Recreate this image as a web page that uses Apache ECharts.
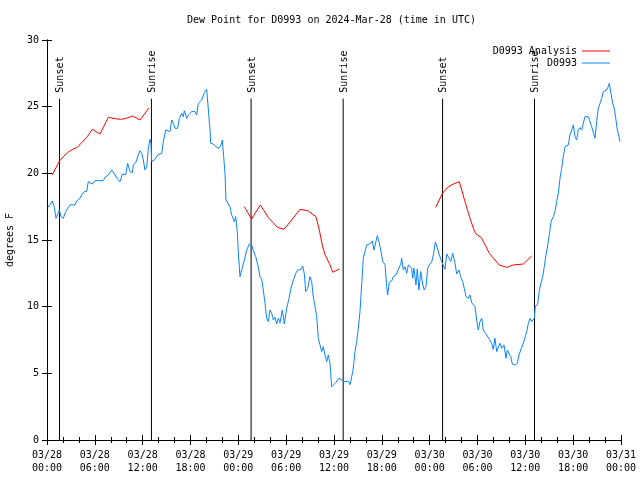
<!DOCTYPE html>
<html>
<head>
<meta charset="utf-8">
<script src="https://cdn.jsdelivr.net/npm/echarts@6/dist/echarts.min.js"></script>
<style>html,body{margin:0;padding:0;background:#fff}#c{width:640px;height:480px}</style>
</head>
<body>
<div id="c"></div>
<script>
// Hours since 2024-03-28 00:00 UTC
const xTickLabels = ['03/28\n00:00','03/28\n06:00','03/28\n12:00','03/28\n18:00','03/29\n00:00','03/29\n06:00','03/29\n12:00','03/29\n18:00','03/30\n00:00','03/30\n06:00','03/30\n12:00','03/30\n18:00','03/31\n00:00'];
const yTicks = [0,5,10,15,20,25,30];

const eventNames = ['Sunset','Sunrise','Sunset','Sunrise','Sunset','Sunrise'];
const eventTimes = [1.57, 13.1, 25.6, 37.15, 49.62, 61.15];
const eventLineTop = 25.6;

const analysisTimes1 = [0.66,1.54,2.04,2.67,3.22,3.8,4.35,5.06,5.68,6.23,6.65,7.69,8.53,9.24,9.78,10.75,11.67,12.76];
const analysisValues1 = [19.87,20.9,21.25,21.6,21.8,21.95,22.3,22.75,23.3,23.1,22.95,24.2,24.1,24.05,24.1,24.3,24.0,24.9];
const analysisTimes2 = [24.75,25.67,26.76,27.77,28.9,29.73,30.69,31.73,32.78,33.74,34.16,34.53,34.87,35.5,35.83,36.67];
const analysisValues2 = [17.5,16.58,17.63,16.68,15.95,15.8,16.5,17.3,17.18,16.75,15.75,14.63,13.9,13.13,12.58,12.83];
const analysisTimes3 = [48.75,49.6,50.26,50.97,51.72,52.43,53.06,53.56,53.81,54.45,54.86,55.48,56.2,56.72,57.66,58.5,59.75,60.8];
const analysisValues3 = [17.45,18.5,18.95,19.2,19.38,17.88,16.63,15.75,15.45,15.2,14.75,14.0,13.5,13.13,12.95,13.13,13.2,13.8];

const obsTimes = [0.09,0.38,0.66,0.92,1.13,1.34,1.54,1.76,2.04,2.35,2.60,2.89,3.51,3.73,4.14,4.35,4.68,4.98,5.18,5.39,5.68,6.02,7.06,7.28,7.69,8.12,8.53,8.87,9.16,9.45,9.70,9.87,10.12,10.41,10.70,10.83,11.13,11.38,11.67,11.88,12.08,12.29,12.51,12.71,12.92,13.05,13.13,13.46,13.89,14.39,14.59,14.89,15.14,15.43,15.64,15.84,16.06,16.39,16.60,16.90,17.10,17.22,17.52,17.72,18.15,18.56,18.78,18.98,19.19,19.40,19.73,20.03,20.23,20.45,20.53,20.86,21.16,21.41,21.57,21.83,21.99,22.16,22.33,22.45,22.67,22.95,23.17,23.49,23.67,23.87,24.00,24.21,24.42,24.75,25.05,25.38,25.46,25.68,25.88,26.18,26.50,26.72,26.93,27.13,27.35,27.56,27.76,27.97,28.19,28.39,28.60,28.81,29.01,29.23,29.52,29.77,30.07,30.36,30.61,30.90,31.20,31.45,31.86,32.07,32.27,32.45,32.70,32.99,33.20,33.40,33.62,33.83,34.03,34.24,34.46,34.66,34.87,35.08,35.29,35.50,35.71,35.91,36.13,36.34,36.63,36.97,37.38,37.79,38.01,38.22,38.35,38.51,38.63,38.85,39.05,39.26,39.47,39.68,39.89,40.10,40.30,40.60,40.80,41.02,41.23,41.43,41.64,41.86,42.11,42.40,42.61,42.73,42.94,43.24,43.44,43.78,44.07,44.37,44.49,44.69,44.91,45.12,45.32,45.53,45.75,45.87,46.03,46.28,46.45,46.66,46.88,47.13,47.33,47.54,47.75,47.95,48.25,48.46,48.71,48.96,49.21,49.51,49.71,49.92,50.14,50.34,50.64,50.89,51.18,51.39,51.68,51.89,52.14,52.34,52.56,52.85,53.06,53.27,53.47,53.69,53.90,54.10,54.31,54.53,54.73,54.94,55.23,55.48,55.78,55.98,56.19,56.41,56.61,56.82,57.04,57.32,57.58,57.74,57.99,58.17,58.37,58.71,58.99,59.21,59.42,59.67,59.87,60.17,60.38,60.59,60.80,61.00,61.13,61.25,61.53,61.75,61.96,62.18,62.38,62.59,62.81,63.01,63.22,63.51,63.72,63.93,64.14,64.35,64.56,64.76,64.98,65.19,65.39,65.60,65.82,66.02,66.23,66.44,66.64,66.86,67.07,67.27,67.48,67.70,67.90,68.11,68.32,68.53,68.74,68.95,69.15,69.37,69.58,69.78,69.99,70.20,70.40,70.53,70.74,70.96,71.16,71.34,71.54,71.75,71.87];
const obsValues = [17.45,17.63,17.93,17.45,16.63,16.63,17.25,16.75,16.63,17.13,17.38,17.63,17.63,17.93,18.13,18.38,18.63,18.63,19.38,19.5,19.2,19.45,19.45,19.7,19.88,20.25,19.88,19.55,19.38,19.95,20.0,19.9,20.75,20.13,20.05,20.63,20.8,21.25,21.7,21.5,21.0,20.25,20.5,21.88,22.55,22.25,20.88,21.0,21.38,21.5,22.38,23.25,23.38,23.13,24.0,23.75,23.38,23.38,24.13,24.5,24.25,24.7,24.13,24.38,24.63,24.63,24.38,25.25,25.13,25.5,26.05,26.3,26.3,23.25,22.25,22.2,22.0,22.13,21.88,22.13,22.5,21.25,20.0,18.0,18.13,17.5,16.88,16.38,16.75,15.63,14.0,12.25,12.25,13.5,14.25,14.7,14.75,14.63,14.2,13.75,13.0,12.25,12.05,11.25,10.25,9.13,8.88,9.75,9.5,9.0,9.2,8.7,9.13,8.8,9.75,8.7,9.88,10.63,11.38,12.0,12.5,12.75,12.8,13.05,12.5,11.13,11.38,12.25,11.88,10.75,10.0,9.25,7.63,7.13,6.63,7.0,6.38,5.88,6.38,5.75,4.0,4.05,4.25,4.38,4.63,4.5,4.38,4.4,4.15,4.2,5.13,5.88,6.63,7.38,8.38,9.63,11.63,13.63,14.13,14.63,14.7,14.75,14.93,14.25,14.25,15.33,14.88,14.25,13.38,13.18,11.5,10.88,11.83,11.93,12.25,12.38,12.8,13.18,13.63,12.75,13.0,12.5,13.13,13.13,12.88,12.13,12.88,11.63,12.83,11.25,12.63,11.63,11.25,11.5,12.88,13.13,13.33,13.88,14.83,14.43,13.88,13.38,13.25,12.8,13.95,13.75,13.38,14.0,13.25,12.45,12.75,12.25,11.88,11.38,10.75,10.63,10.88,10.3,10.45,10.0,9.0,8.25,8.88,9.13,8.25,8.13,7.8,7.55,7.25,6.8,7.63,6.63,6.75,7.25,6.88,7.13,6.13,6.75,6.75,6.25,5.7,5.63,5.75,6.38,6.75,7.13,7.5,8.13,8.75,9.13,8.88,8.8,9.13,10.05,10.13,11.2,11.75,12.25,13.0,13.88,14.63,15.38,16.38,16.75,17.13,17.88,18.5,19.63,20.38,21.25,22.0,21.88,22.13,22.88,23.25,23.63,22.75,22.5,23.25,23.43,23.25,23.13,24.25,24.38,24.25,23.88,23.5,23.38,22.63,23.88,24.88,25.25,25.63,26.13,26.0,26.25,26.5,26.75,26.0,25.25,24.88,24.13,23.25,22.75,22.38];

const FONT = '"DejaVu Sans Mono", "Liberation Mono", monospace';
const RED = '#ff0000';
const BLUE = '#0a84ff';

function zip(a, b) { return a.map((t, i) => [t, b[i]]); }

const chart = echarts.init(document.getElementById('c'), null, {renderer: 'canvas'});

const xBase = {
  type: 'value', min: 0, max: 72, interval: 6,
  axisLine: {show: true, lineStyle: {color: '#000', width: 1}},
  axisTick: {show: true, inside: true, length: 5, lineStyle: {color: '#000'}},
  minorTick: {show: true, splitNumber: 3, length: 3, lineStyle: {color: '#000'}},
  splitLine: {show: false}, minorSplitLine: {show: false}
};
const yBase = {
  type: 'value', min: 0, max: 30, interval: 5,
  axisLine: {show: true, lineStyle: {color: '#000', width: 1}},
  axisTick: {show: true, inside: true, length: 5, lineStyle: {color: '#000'}},
  splitLine: {show: false}
};

const option = {
  animation: false,
  backgroundColor: '#fff',
  title: {
    text: 'Dew Point for D0993 on 2024-Mar-28 (time in UTC)',
    left: 187, top: 15, padding: 0,
    textStyle: {fontFamily: FONT, fontSize: 10, fontWeight: 'normal', color: '#000'}
  },
  legend: [
    {data: ['D0993 Analysis'], right: 30, top: 46, padding: 0, align: 'right', orient: 'vertical',
     icon: 'rect', itemWidth: 28, itemHeight: 1,
     textStyle: {fontFamily: FONT, fontSize: 10, color: '#000'}},
    {data: ['D0993'], right: 30, top: 58, padding: 0, align: 'right', orient: 'vertical',
     icon: 'rect', itemWidth: 28, itemHeight: 1,
     textStyle: {fontFamily: FONT, fontSize: 10, color: '#000'}}
  ],
  grid: {left: 47, right: 19, top: 40, bottom: 40, containLabel: false, outerBoundsMode: 'none'},
  xAxis: [
    Object.assign({}, xBase, {
      position: 'bottom',
      axisLabel: {
        show: true, margin: 9, showMinLabel: true, showMaxLabel: true, hideOverlap: false,
        fontFamily: FONT, fontSize: 10, color: '#000', lineHeight: 13,
        formatter: v => xTickLabels[Math.round(v / 6)]
      }
    }),
    Object.assign({}, xBase, {position: 'top', axisLabel: {show: false}})
  ],
  yAxis: [
    Object.assign({}, yBase, {
      position: 'left',
      name: 'degrees F', nameLocation: 'middle', nameGap: 32,
      nameTextStyle: {fontFamily: FONT, fontSize: 10, color: '#000'},
      axisLabel: {show: true, margin: 8, fontFamily: FONT, fontSize: 10, color: '#000',
        showMinLabel: true, showMaxLabel: true,
        formatter: v => String(yTicks[Math.round(v / 5)])}
    }),
    Object.assign({}, yBase, {position: 'right', axisLabel: {show: false}})
  ],
  series: [
    {
      type: 'custom', name: 'events', silent: true, z: 1,
      xAxisIndex: 0, yAxisIndex: 0,
      data: eventTimes.map(t => [t, eventLineTop]),
      encode: {x: 0, y: 1},
      renderItem: function (params, api) {
        const t = api.value(0), top = api.value(1);
        const p0 = api.coord([t, 0]);
        const p1 = api.coord([t, top]);
        return {
          type: 'group',
          children: [
            {type: 'line', shape: {x1: p0[0], y1: p0[1], x2: p1[0], y2: p1[1]},
             style: {stroke: '#000', lineWidth: 1}},
            {type: 'text', x: p1[0] + 1, y: p1[1] - 6, rotation: Math.PI / 2,
             style: {text: eventNames[params.dataIndex], fill: '#000',
                     font: '10px ' + FONT, textAlign: 'left', textVerticalAlign: 'middle'}}
          ]
        };
      }
    },
    {type: 'line', name: 'D0993 Analysis', data: zip(analysisTimes1, analysisValues1),
     showSymbol: false, symbol: 'none', color: RED, lineStyle: {width: 1, color: RED}, z: 3},
    {type: 'line', name: 'D0993 Analysis', data: zip(analysisTimes2, analysisValues2),
     showSymbol: false, symbol: 'none', color: RED, lineStyle: {width: 1, color: RED}, z: 3},
    {type: 'line', name: 'D0993 Analysis', data: zip(analysisTimes3, analysisValues3),
     showSymbol: false, symbol: 'none', color: RED, lineStyle: {width: 1, color: RED}, z: 3},
    {type: 'line', name: 'D0993', data: zip(obsTimes, obsValues),
     showSymbol: false, symbol: 'none', color: BLUE, lineStyle: {width: 1, color: BLUE}, z: 3}
  ]
};
chart.setOption(option);
</script>
</body>
</html>
